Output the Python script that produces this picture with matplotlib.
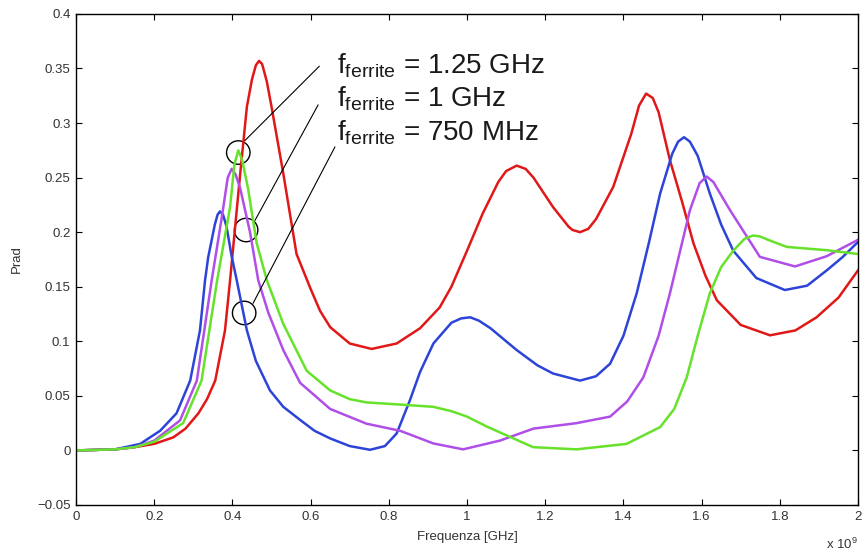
import matplotlib
matplotlib.use("Agg")
import matplotlib.pyplot as plt
from matplotlib.patches import Ellipse

plt.rcParams["font.family"] = ["Liberation Sans", "DejaVu Sans"]
plt.rcParams["mathtext.fontset"] = "custom"
plt.rcParams["mathtext.rm"] = "Liberation Sans"

# frequency in units of 1e9 Hz, radiated power
red_x = [0, 0.1, 0.15, 0.2, 0.249, 0.28, 0.313, 0.335, 0.356, 0.381, 0.394, 0.42, 0.437,
         0.45, 0.46, 0.468, 0.476, 0.488, 0.5, 0.53, 0.564, 0.6, 0.624, 0.65, 0.7, 0.756,
         0.82, 0.88, 0.93, 0.96, 1.0, 1.04, 1.08, 1.1, 1.127, 1.15, 1.17, 1.22, 1.26, 1.27,
         1.289, 1.31, 1.33, 1.374, 1.42, 1.44, 1.458, 1.475, 1.49, 1.519, 1.55, 1.579, 1.61,
         1.639, 1.7, 1.775, 1.84, 1.894, 1.95, 2.0]
red_y = [0, 0.001, 0.003, 0.006, 0.012, 0.02, 0.034, 0.047, 0.064, 0.11, 0.156, 0.254, 0.315,
         0.34, 0.353, 0.357, 0.354, 0.338, 0.315, 0.254, 0.18, 0.148, 0.128, 0.113, 0.098, 0.093,
         0.098, 0.112, 0.131, 0.15, 0.183, 0.217, 0.246, 0.256, 0.261, 0.258, 0.25, 0.223, 0.205, 0.202,
         0.2, 0.203, 0.212, 0.2415, 0.29, 0.316, 0.327, 0.323, 0.31, 0.266, 0.228, 0.19, 0.16,
         0.1376, 0.115, 0.1055, 0.11, 0.122, 0.14, 0.165]

blue_x = [0, 0.1, 0.164, 0.215, 0.257, 0.292, 0.317, 0.33, 0.338, 0.355, 0.362, 0.368, 0.376,
          0.385, 0.398, 0.411, 0.437, 0.46, 0.496, 0.53, 0.573, 0.61, 0.65, 0.7, 0.752, 0.79,
          0.82, 0.854, 0.88, 0.914, 0.96, 0.985, 1.008, 1.03, 1.06, 1.127, 1.18, 1.22, 1.289,
          1.33, 1.366, 1.4, 1.434, 1.465, 1.494, 1.525, 1.54, 1.555, 1.57, 1.59, 1.621, 1.65,
          1.681, 1.74, 1.813, 1.87, 1.92, 1.96, 2.0]
blue_y = [0, 0.001, 0.006, 0.018, 0.034, 0.064, 0.11, 0.156, 0.177, 0.207, 0.216, 0.219, 0.216,
          0.205, 0.178, 0.156, 0.11, 0.082, 0.055, 0.04, 0.028, 0.018, 0.011, 0.004, 0.0006, 0.004,
          0.0155, 0.046, 0.072, 0.098, 0.117, 0.121, 0.122, 0.119, 0.112, 0.092, 0.078, 0.0705, 0.064,
          0.068, 0.0795, 0.105, 0.144, 0.19, 0.2355, 0.272, 0.283, 0.287, 0.283, 0.27, 0.2355, 0.207,
          0.183, 0.158, 0.147, 0.151, 0.165, 0.177, 0.191]

purple_x = [0, 0.1, 0.15, 0.2, 0.266, 0.309, 0.347, 0.373, 0.388, 0.398, 0.408, 0.42, 0.445,
            0.466, 0.492, 0.53, 0.573, 0.65, 0.743, 0.829, 0.914, 0.99, 1.084, 1.17, 1.28,
            1.366, 1.41, 1.451, 1.49, 1.519, 1.57, 1.595, 1.613, 1.63, 1.673, 1.749, 1.839,
            1.92, 2.0]
purple_y = [0, 0.001, 0.003, 0.009, 0.0275, 0.064, 0.156, 0.214, 0.25, 0.258, 0.253, 0.24, 0.2,
            0.156, 0.126, 0.092, 0.062, 0.038, 0.0245, 0.018, 0.0064, 0.001, 0.009, 0.02, 0.025,
            0.031, 0.045, 0.067, 0.105, 0.144, 0.22, 0.245, 0.251, 0.246, 0.22, 0.1774, 0.1686,
            0.178, 0.193]

green_x = [0, 0.1, 0.15, 0.2, 0.274, 0.321, 0.361, 0.394, 0.405, 0.415, 0.425, 0.44, 0.462,
           0.488, 0.53, 0.59, 0.65, 0.7, 0.743, 0.83, 0.913, 0.96, 1.0, 1.05, 1.1, 1.169, 1.28,
           1.408, 1.494, 1.53, 1.562, 1.59, 1.621, 1.65, 1.681, 1.71, 1.732, 1.75, 1.77, 1.818,
           1.92, 2.0]
green_y = [0, 0.001, 0.003, 0.008, 0.025, 0.064, 0.156, 0.223, 0.262, 0.275, 0.266, 0.24, 0.19,
           0.156, 0.116, 0.073, 0.055, 0.047, 0.044, 0.042, 0.04, 0.036, 0.031, 0.022, 0.014, 0.003,
           0.001, 0.006, 0.0214, 0.038, 0.067, 0.105, 0.144, 0.168, 0.183, 0.194, 0.197, 0.196, 0.193,
           0.1865, 0.1835, 0.18]

xtick_vals = [0, 0.2, 0.4, 0.6, 0.8, 1, 1.2, 1.4, 1.6, 1.8, 2]
xtick_labels = ["0", "0.2", "0.4", "0.6", "0.8", "1", "1.2", "1.4", "1.6", "1.8", "2"]
ytick_vals = [-0.05, 0, 0.05, 0.1, 0.15, 0.2, 0.25, 0.3, 0.35, 0.4]
ytick_labels = ["\u22120.05", "0", "0.05", "0.1", "0.15", "0.2", "0.25", "0.3", "0.35", "0.4"]

# annotation: circled points, leader line ends and labels
labels = [r"f$_{\mathrm{ferrite}}$ = 1.25 GHz", r"f$_{\mathrm{ferrite}}$ = 1 GHz",
          r"f$_{\mathrm{ferrite}}$ = 750 MHz"]
circle_pts = [(0.415, 0.273), (0.435, 0.202), (0.43, 0.126)]
line_start = [(0.432, 0.284), (0.458, 0.211), (0.453, 0.135)]
line_end = [(0.622, 0.352), (0.619, 0.3165), (0.662, 0.278)]
label_y = [0.3456, 0.315, 0.2844]

fig = plt.figure(figsize=(8.65, 5.53), dpi=100)
ax = fig.add_axes([0.0879, 0.0868, 0.904, 0.888])

ax.plot(red_x, red_y, color="#e01818", lw=1.8)
ax.plot(blue_x, blue_y, color="#2d44d8", lw=1.8)
ax.plot(purple_x, purple_y, color="#b04ee8", lw=1.8)
ax.plot(green_x, green_y, color="#66e22a", lw=1.8)

for (cx, cy), (sx, sy), (ex, ey) in zip(circle_pts, line_start, line_end):
    ax.add_patch(Ellipse((cx, cy), 0.06, 0.0215, fill=False, ec="black", lw=1.0))
    ax.plot([sx, ex], [sy, ey], color="black", lw=0.8)

for lab, ly in zip(labels, label_y):
    ax.text(0.667, ly, lab, fontsize=20, color="#1a1a1a", va="baseline", ha="left")

ax.set_xlim(0, 2)
ax.set_ylim(-0.05, 0.4)
ax.set_xticks(xtick_vals)
ax.set_xticklabels(xtick_labels)
ax.set_yticks(ytick_vals)
ax.set_yticklabels(ytick_labels)
ax.tick_params(direction="in", top=True, right=True, length=4, labelsize=9.5,
               labelcolor="#333333", pad=4)
for sp in ax.spines.values():
    sp.set_linewidth(1.0)

ax.set_xlabel("Frequenza [GHz]", fontsize=9.5, color="#333333", labelpad=6)
ax.set_ylabel("Prad", fontsize=9.5, color="#333333", labelpad=10)
ax.text(1.0, -0.081, r"x 10$^9$", transform=ax.transAxes, fontsize=9.5,
        color="#333333", ha="right", va="center")

fig.savefig("out.png", dpi=100)
